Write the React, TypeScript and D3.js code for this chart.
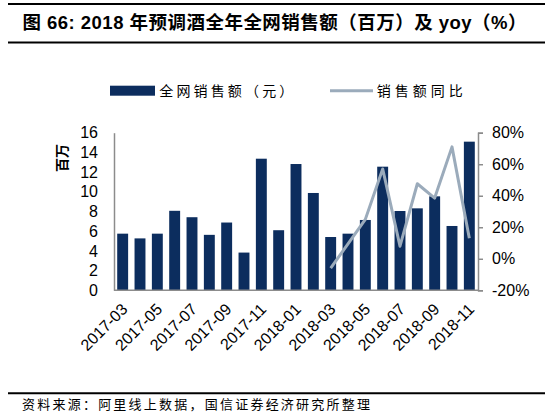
import React, {useEffect, useRef} from "react";
import * as d3 from "d3";

const months = [
  "2017-03", "2017-04", "2017-05", "2017-06", "2017-07", "2017-08", "2017-09",
  "2017-10", "2017-11", "2017-12", "2018-01", "2018-02", "2018-03", "2018-04",
  "2018-05", "2018-06", "2018-07", "2018-08", "2018-09", "2018-10", "2018-11",
];
// 全网销售额（百万）
const sales = [
  5.75, 5.27, 5.75, 8.07, 7.42, 5.63, 6.88, 3.83, 13.36, 6.1, 12.82, 9.88,
  5.41, 5.75, 7.14, 12.55, 8.05, 8.32, 9.54, 6.53, 15.09,
];
// 销售额同比（%），2018-03 起
const yoy: (number | null)[] = [
  null, null, null, null, null, null, null, null, null, null, null, null,
  -6, 9.5, 25, 57, 8, 47.6, 38.5, 71, 13,
];
const leftTicks = [0, 2, 4, 6, 8, 10, 12, 14, 16];
const rightTicks = [-20, 0, 20, 40, 60, 80];
const xLabels = months.filter((_, i) => i % 2 === 0);

const W = 545;
const H = 417;
const BAR = "#0c2d5e";
const LINE = "#9babbb";
const AXIS = "#8c8c8c";
const NUM_FONT = "'Liberation Sans', Arial, sans-serif";
const CJK_FONT = "'Noto Sans CJK SC', sans-serif";

export default function App() {
  const ref = useRef<SVGSVGElement>(null);

  useEffect(() => {
    const svg = d3.select(ref.current);
    svg.selectAll("*").remove();

    const left = 114, right = 478, top = 132.7, bottom = 290.3;

    const x = d3.scaleBand<string>()
      .domain(months)
      .range([left, right])
      .paddingInner(0.37)
      .paddingOuter(0.185);
    const yL = d3.scaleLinear().domain([0, 16]).range([bottom, top]);
    const yR = d3.scaleLinear().domain([-20, 80]).range([bottom, top]);

    // title block
    svg.append("line").attr("x1", 8).attr("x2", W).attr("y1", 4).attr("y2", 4)
      .attr("stroke", "#000").attr("stroke-width", 2);
    svg.append("line").attr("x1", 8).attr("x2", W).attr("y1", 42.5).attr("y2", 42.5)
      .attr("stroke", "#000").attr("stroke-width", 2);
    svg.append("text")
      .attr("x", 22.5).attr("y", 29)
      .attr("font-family", `'Liberation Sans', ${CJK_FONT}`)
      .attr("font-weight", "bold")
      .attr("font-size", 18.5)
      .attr("textLength", 504)
      .attr("lengthAdjust", "spacing")
      .text("图 66: 2018 年预调酒全年全网销售额（百万）及 yoy（%）");

    // legend
    svg.append("rect").attr("x", 110).attr("y", 85.7).attr("width", 45).attr("height", 10)
      .attr("fill", BAR);
    svg.append("text").attr("x", 159.3).attr("y", 95.5)
      .attr("font-family", CJK_FONT).attr("font-size", 14)
      .attr("textLength", 134).attr("lengthAdjust", "spacing")
      .text("全网销售额（元）");
    svg.append("line").attr("x1", 330).attr("x2", 373).attr("y1", 90.7).attr("y2", 90.7)
      .attr("stroke", LINE).attr("stroke-width", 3);
    svg.append("text").attr("x", 376.7).attr("y", 95.5)
      .attr("font-family", CJK_FONT).attr("font-size", 14)
      .attr("textLength", 86).attr("lengthAdjust", "spacing")
      .text("销售额同比");

    // bars
    svg.append("g").selectAll("rect").data(months).join("rect")
      .attr("x", (d) => x(d)!)
      .attr("width", x.bandwidth())
      .attr("y", (_, i) => yL(sales[i]))
      .attr("height", (_, i) => yL(0) - yL(sales[i]))
      .attr("fill", BAR);

    // axes
    const gl = svg.append("g").attr("transform", `translate(${left},0)`)
      .call(d3.axisLeft(yL).tickValues(leftTicks).tickSize(0).tickPadding(16));
    const gr = svg.append("g").attr("transform", `translate(${right},0)`)
      .call(d3.axisRight(yR).tickValues(rightTicks).tickSize(5).tickPadding(9)
        .tickFormat((d) => `${d}%`));
    [gl, gr].forEach((g) => {
      g.select(".domain").attr("stroke", AXIS).attr("stroke-width", 1.5);
      g.selectAll(".tick line").attr("stroke", AXIS).attr("stroke-width", 1.5);
      g.selectAll(".tick text")
        .attr("font-family", NUM_FONT).attr("font-size", 16).attr("fill", "#000");
    });

    svg.append("line").attr("x1", left).attr("x2", right)
      .attr("y1", bottom).attr("y2", bottom)
      .attr("stroke", AXIS).attr("stroke-width", 1.5);

    svg.append("g").selectAll("text").data(xLabels).join("text")
      .attr("transform", (d) => `translate(${x(d)! + x.bandwidth() / 2 + 6},${bottom + 20}) rotate(-45)`)
      .attr("text-anchor", "end")
      .attr("font-family", NUM_FONT)
      .attr("font-size", 16)
      .text((d) => d);

    // yoy line
    const pts = months.map((m, i) => [m, yoy[i]] as [string, number | null]);
    svg.append("path")
      .datum(pts)
      .attr("fill", "none")
      .attr("stroke", LINE)
      .attr("stroke-width", 3)
      .attr("stroke-linejoin", "round")
      .attr("d", d3.line<[string, number | null]>()
        .defined((d) => d[1] != null)
        .x((d) => x(d[0])! + x.bandwidth() / 2)
        .y((d) => yR(d[1] as number)));

    // unit label
    svg.append("text")
      .attr("transform", "translate(67,158) rotate(-90)")
      .attr("text-anchor", "middle")
      .attr("font-family", CJK_FONT)
      .attr("font-weight", "bold")
      .attr("font-size", 14)
      .text("百万");

    // source
    svg.append("line").attr("x1", 8).attr("x2", W).attr("y1", 393.3).attr("y2", 393.3)
      .attr("stroke", "#000").attr("stroke-width", 2);
    svg.append("text").attr("x", 22).attr("y", 409)
      .attr("font-family", CJK_FONT).attr("font-size", 13)
      .attr("textLength", 348).attr("lengthAdjust", "spacing")
      .text("资料来源：阿里线上数据，国信证券经济研究所整理");
  }, []);

  return (
    <svg
      ref={ref}
      width={W}
      height={H}
      style={{position: "absolute", left: 0, top: 0, background: "#fff"}}
    />
  );
}
